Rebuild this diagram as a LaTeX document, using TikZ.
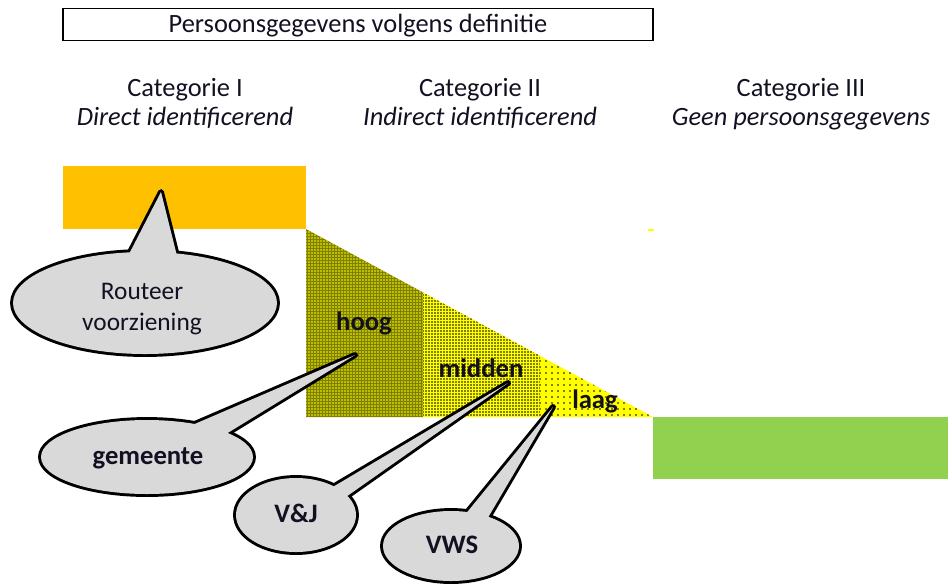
\documentclass[tikz,border=0pt]{standalone}
\usepackage{fontspec}
\setmainfont{Carlito}
\usetikzlibrary{patterns.meta,shapes.geometric}
\definecolor{orangebar}{HTML}{FFC000}
\definecolor{greenbar}{HTML}{92D050}
\definecolor{callgray}{HTML}{D9D9D9}
\definecolor{yel}{HTML}{FFFF00}
\definecolor{olive}{RGB}{128,128,0}
\definecolor{txt}{HTML}{111122}
\tikzset{
  head/.style={font=\fontsize{19.8}{22}\selectfont, text=txt, anchor=base, inner sep=0pt},
  headit/.style={head, font=\fontsize{19.8}{22}\selectfont\itshape},
  calltext/.style={font=\fontsize{19}{22}\selectfont, text=txt, anchor=base, inner sep=0pt},
  boldlab/.style={font=\fontsize{20}{22}\selectfont\bfseries, text=txt, anchor=base, inner sep=0pt},
  outl/.style={draw=black, line width=4.4pt, line join=round},
}
\begin{document}
\begin{tikzpicture}[x=0.75pt, y=-0.75pt]
\useasboundingbox (0,0) rectangle (948,583);
% title box
\node[draw=black, line width=0.8pt, minimum width=590*0.75pt, minimum height=32*0.75pt, inner sep=0pt] (titlebox) at (358,24.5) {};
\node[head] (title) at (358,32) {Persoonsgegevens volgens definitie};
% category headings
\node[head] (c1) at (185,96) {Categorie I};
\node[headit] (c1i) at (185,125) {Direct identificerend};
\node[head] (c2) at (480,96) {Categorie II};
\node[headit] (c2i) at (480,125) {Indirect identificerend};
\node[head] (c3) at (801,96) {Categorie III};
\node[headit] (c3i) at (801,125) {Geen persoonsgegevens};
% bars
\fill[orangebar] (63,166) rectangle (306,229);
\fill[greenbar] (653,417) rectangle (948,479);
\draw[yel, line width=1pt] (648,230) -- (654,230);
% triangle sections
\fill[olive] (306,229) -- (423,292.4) -- (423,417) -- (306,417) -- cycle;
\fill[pattern={Dots[distance=2.25pt, radius=0.6pt]}, pattern color=yel] (306,229) -- (423,292.4) -- (423,417) -- (306,417) -- cycle;
\fill[yel] (423,292.4) -- (540,355.8) -- (540,417) -- (423,417) -- cycle;
\fill[pattern={Dots[distance=2.25pt, radius=0.6pt]}, pattern color=black] (423,292.4) -- (540,355.8) -- (540,417) -- (423,417) -- cycle;
\fill[yel] (540,355.8) -- (653,417) -- (540,417) -- cycle;
\fill[pattern={Dots[distance=4.5pt, radius=0.6pt]}, pattern color=black] (540,355.8) -- (653,417) -- (540,417) -- cycle;
\node[boldlab] (hoog) at (364,330) {hoog};
\node[boldlab] (midden) at (481,377) {midden};
\node[boldlab] (laag) at (595,408) {laag};
% tips
\coordinate (rtip) at (161,192);
\coordinate (gtip) at (355,355);
\coordinate (vtip) at (508,383);
\coordinate (wtip) at (553,407);
% callout outlines (union trick)
\draw[outl] (128,256) -- (rtip) -- (177,256) -- cycle;
\draw[outl] (145,303) ellipse [x radius=132, y radius=51];
\draw[outl] (190,426) -- (gtip) -- (226,434) -- cycle;
\draw[outl] (147,457) ellipse [x radius=106, y radius=37];
\draw[outl] (326,491) -- (vtip) -- (343,499) -- cycle;
\draw[outl] (296,515) ellipse [x radius=60, y radius=37];
\draw[outl] (464,516) -- (wtip) -- (486,521) -- cycle;
\draw[outl] (451,546) ellipse [x radius=68, y radius=35];
% fills
\fill[callgray] (128,256) -- (rtip) -- (177,256) -- cycle;
\fill[callgray] (145,303) ellipse [x radius=132, y radius=51];
\fill[callgray] (190,426) -- (gtip) -- (226,434) -- cycle;
\fill[callgray] (147,457) ellipse [x radius=106, y radius=37];
\fill[callgray] (326,491) -- (vtip) -- (343,499) -- cycle;
\fill[callgray] (296,515) ellipse [x radius=60, y radius=37];
\fill[callgray] (464,516) -- (wtip) -- (486,521) -- cycle;
\fill[callgray] (451,546) ellipse [x radius=68, y radius=35];
% callout texts
\node[calltext] (rout1) at (142,299) {Routeer};
\node[calltext] (rout2) at (142,330) {voorziening};
\node[boldlab] (gem) at (148,464) {gemeente};
\node[boldlab] (vj) at (296,522) {V\&J};
\node[boldlab] (vws) at (452,553) {VWS};
\end{tikzpicture}
\end{document}
